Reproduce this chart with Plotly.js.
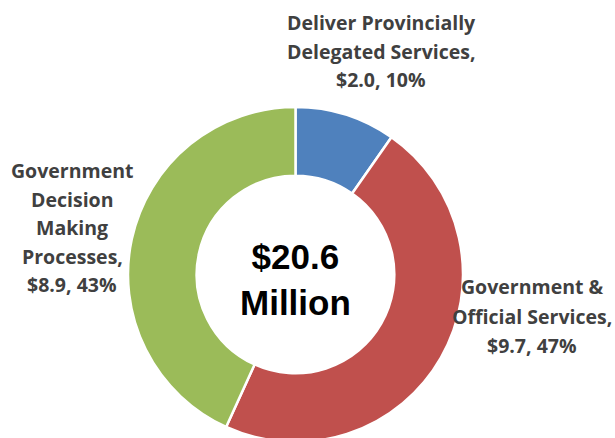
<!DOCTYPE html>
<html>
<head>
<meta charset="utf-8">
<script src="https://cdn.plot.ly/plotly-3.0.1.min.js"></script>
<style>
html,body{margin:0;padding:0;overflow:hidden;background:#fff;}
#chart{width:615px;height:446px;}
</style>
</head>
<body>
<div id="chart"></div>
<script>
// Data
const categories = ["Deliver Provincially Delegated Services", "Government & Official Services", "Government Decision Making Processes"];
const values = [2.0, 9.7, 8.9];
const percents = [10, 47, 43];
const colors = ["#4F81BD", "#C0504D", "#9BBB59"];
const labelLines = [
  ["Deliver Provincially", "Delegated Services,"],
  ["Government &", "Official Services,"],
  ["Government", "Decision", "Making", "Processes,"]
];
const totalText = ["$20.6", "Million"];

// Layout helpers (pixel geometry)
const W = 615, H = 446;
const cx = 295.5, cy = 274.5, R = 167.5;
const px = x => x / W;
const py = y => 1 - y / H;

// label anchor positions (center x, first line y, line spacing)
const labelPos = [
  {x: 381, y: 22, dy: 29},
  {x: 532, y: 286.5, dy: 29.5},
  {x: 72, y: 170.5, dy: 28.5}
];

const annotations = [];
categories.forEach((c, i) => {
  const lines = labelLines[i].concat(["$" + values[i].toFixed(1) + ", " + percents[i] + "%"]);
  lines.forEach((t, j) => {
    annotations.push({
      xref: "paper", yref: "paper",
      x: px(labelPos[i].x), y: py(labelPos[i].y + j * labelPos[i].dy),
      xanchor: "center", yanchor: "middle",
      text: "<b>" + t + "</b>", showarrow: false,
      font: {family: "Open Sans, sans-serif", size: 19.5, color: "#404040"}
    });
  });
});
annotations.push({
  xref: "paper", yref: "paper",
  x: px(cx), y: py(279.5),
  xanchor: "center", yanchor: "middle",
  text: "<b>" + totalText.join("<br>") + "</b>", showarrow: false,
  font: {family: "Liberation Sans, Arial, sans-serif", size: 35, color: "#000000"}
});

const trace = {
  type: "pie",
  labels: categories,
  values: values,
  hole: 0.59,
  sort: false,
  direction: "clockwise",
  rotation: 0,
  marker: {colors: colors, line: {color: "#ffffff", width: 2.5}},
  textinfo: "none",
  hoverinfo: "skip",
  showlegend: false,
  domain: {x: [px(cx - R), px(cx + R)], y: [1 - (cy + R) / H, 1 - (cy - R) / H]}
};

Plotly.newPlot("chart", [trace], {
  width: W, height: H,
  margin: {l: 0, r: 0, t: 0, b: 0},
  paper_bgcolor: "#ffffff",
  plot_bgcolor: "#ffffff",
  showlegend: false,
  annotations: annotations
}, {displayModeBar: false, staticPlot: true});
</script>
</body>
</html>
